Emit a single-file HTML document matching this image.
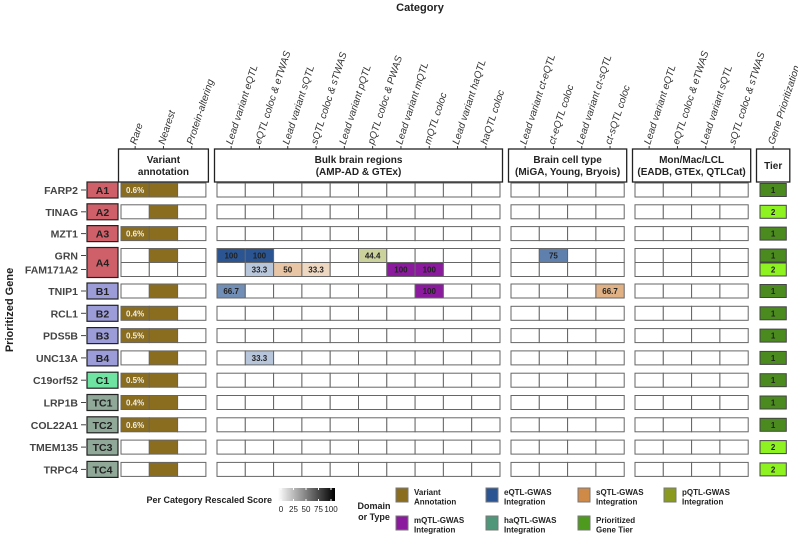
<!DOCTYPE html>
<html><head><meta charset="utf-8"><style>
html,body{margin:0;padding:0;background:#fff}
svg{display:block;font-family:"Liberation Sans",sans-serif}
</style></head><body>
<svg id="chart" width="798" height="541" viewBox="0 0 798 541" xmlns="http://www.w3.org/2000/svg">
<text x="420" y="11" font-size="11" font-weight="bold" text-anchor="middle" fill="#222">Category</text>
<text transform="translate(13,310) rotate(-90)" font-size="11" font-weight="bold" text-anchor="middle" fill="#222">Prioritized Gene</text>
<g id="headers"></g><g id="collabels"></g><g id="rows"></g><g id="legend"></g>
</svg>
<script>
const genes=["FARP2","TINAG","MZT1","GRN","FAM171A2","TNIP1","RCL1","PDS5B","UNC13A","C19orf52","LRP1B","COL22A1","TMEM135","TRPC4"];
const groups=["A1","A2","A3","A4","A4","B1","B2","B3","B4","C1","TC1","TC2","TC3","TC4"];
const tiers=[1,2,1,1,2,1,1,1,1,1,1,1,2,2];
const rarePct=["0.6%","","0.6%","","","","0.4%","0.5%","","0.5%","0.4%","0.6%","",""];
const nearest=[1,1,1,1,0,1,1,1,1,1,1,1,1,1];
const colLabels=["Rare","Nearest","Protein-altering","Lead variant eQTL","eQTL coloc & eTWAS","Lead variant sQTL","sQTL coloc & sTWAS","Lead variant pQTL","pQTL coloc & PWAS","Lead variant mQTL","mQTL coloc","Lead variant haQTL","haQTL coloc","Lead variant ct-eQTL","ct-eQTL coloc","Lead variant ct-sQTL","ct-sQTL coloc","Lead variant eQTL","eQTL coloc & eTWAS","Lead variant sQTL","sQTL coloc & sTWAS","Gene Prioritization"];
const colTypes=["var","var","var","e","e","s","s","p","p","m","m","ha","ha","e","e","s","s","e","e","s","s","tier"];
// scored cells: gene index, column index, value
const cellGene=[3,3,3,4,4,4,4,4,5,5,8,3,5];
const cellCol=[3,4,8,4,5,6,9,10,3,10,4,14,16];
const cellVal=[100,100,44.4,33.3,50,33.3,100,100,66.7,100,33.3,75,66.7];
const blocks=[{name:"Variant\nannotation",x:121,n:3},{name:"Bulk brain regions\n(AMP-AD & GTEx)",x:217,n:10},{name:"Brain cell type\n(MiGA, Young, Bryois)",x:511,n:4},{name:"Mon/Mac/LCL\n(EADB, GTEx, QTLCat)",x:635,n:4},{name:"Tier",x:759,n:1}];
const CW=28.3, NS="http://www.w3.org/2000/svg";
const base={e:[42,85,146],s:[208,138,72],p:[138,154,32],m:[139,26,158],ha:[80,150,120]};
const groupCol={A:"#cf6069",B:"#9c9cd8",C:"#6fe3a2",T:"#8fa898"};
function mk(tag,attrs,parent){const el=document.createElementNS(NS,tag);for(const k in attrs)el.setAttribute(k,attrs[k]);parent.appendChild(el);return el;}
const colX=[];blocks.forEach(b=>{for(let i=0;i<b.n;i++)colX.push(b.x+i*CW);});
function rowY(i){ if(i<3) return 183+i*21.8; if(i===3) return 248.5; if(i===4) return 262.5; return 284+(i-5)*22.3;}
function rowH(i){return 14;}
const H=document.getElementById("headers"),L=document.getElementById("collabels"),R=document.getElementById("rows"),G=document.getElementById("legend");
blocks.forEach((b,bi)=>{
  const w=b.n*CW;
  const r=mk("rect",{x:b.x-2.5,y:149,width:w+5,height:33,fill:"#fff",stroke:"#222","stroke-width":1.3},H);
  
  
  const lines=b.name.split("\n");
  lines.forEach((ln,li)=>{
    const t=mk("text",{x:b.x+w/2,y:(lines.length===1?169:163)+li*12,"font-size":10,"font-weight":"bold","text-anchor":"middle",fill:"#222"},H);
    t.textContent=ln;
    
    
  });
});
colLabels.forEach((lab,ci)=>{
  const cx=colX[ci]+CW/2;
  mk("line",{x1:cx,y1:146,x2:cx,y2:149,stroke:"#333"},L);
  const t=mk("text",{transform:`translate(${cx+1},145) rotate(-72)`,"font-size":10,"font-style":"italic",fill:"#333"},L);
  t.textContent=lab;
  
  
});
function mix(c,v){const f=v/100;return `rgb(${c.map(x=>Math.round(255+(x-255)*f)).join(",")})`;}
genes.forEach((g,gi)=>{
  const y=rowY(gi),h=rowH(gi);
  const t=mk("text",{x:78,y:y+h/2+4,"font-size":10.5,"font-weight":"bold","text-anchor":"end",fill:"#444"},R);
  t.textContent=g;
  
  
  mk("line",{x1:81,y1:y+h/2,x2:86,y2:y+h/2,stroke:"#444"},R);
  colX.forEach((x,ci)=>{
    let fill="#fff",txt="",tc="#222";
    const type=colTypes[ci];
    if(ci===0&&rarePct[gi]){fill="#8a6d1f";txt=rarePct[gi];tc="#eee";}
    if(ci===1&&nearest[gi]) fill="#8a6d1f";
    if(type==="tier"){fill=tiers[gi]===1?"#4a8a1e":"#8df21f";txt=String(tiers[gi]);}
    cellGene.forEach((cg,k)=>{if(cg===gi&&cellCol[k]===ci){fill=mix(base[type],cellVal[k]);txt=String(cellVal[k]);}});
    const isT=type==="tier";
    const c=mk("rect",{x:isT?x+1:x,y:isT?y+0.5:y,width:isT?CW-2:CW,height:isT?h-1:h,fill,stroke:isT?"#444":"#666","stroke-width":1},R);
    
    
    if(txt){const tt=mk("text",{x:ci===0?x+5:x+CW/2,y:y+h/2+3,"font-size":8,"font-weight":"bold","text-anchor":ci===0?"start":"middle",fill:tc},R);tt.textContent=txt;
      
      }
  });
});
const seen={};
groups.forEach((gr,gi)=>{
  if(seen[gr])return;seen[gr]=1;
  let last=gi;while(groups[last+1]===gr)last++;
  const y0=rowY(gi)-1,y1=rowY(last)+rowH(last)+1;
  const b=mk("rect",{x:87,y:y0,width:31,height:y1-y0,fill:groupCol[gr[0]],stroke:"#222","stroke-width":1.2},R);
  
  
  const t=mk("text",{x:102.5,y:(y0+y1)/2+4,"font-size":10.5,"font-weight":"bold","text-anchor":"middle",fill:"#222"},R);
  t.textContent=gr;
  
  
});
const lg=mk("text",{x:272,y:503,"font-size":9,"font-weight":"bold","text-anchor":"end",fill:"#222"},G);lg.textContent="Per Category Rescaled Score";


const defs=mk("defs",{},G);const lgd=mk("linearGradient",{id:"gr"},defs);
mk("stop",{offset:"0","stop-color":"#fff"},lgd);mk("stop",{offset:"1","stop-color":"#000"},lgd);
const gb=mk("rect",{x:278,y:488,width:57,height:13,fill:"url(#gr)"},G);


const ticks=["0","25","50","75","100"];
ticks.forEach((tk,i)=>{const x=281+i*12.5;mk("line",{x1:x,y1:488,x2:x,y2:490,stroke:"#fff"},G);mk("line",{x1:x,y1:499,x2:x,y2:501,stroke:"#fff"},G);
  const t=mk("text",{x,y:512,"font-size":8,"text-anchor":"middle",fill:"#222"},G);t.textContent=tk;
  
  });
[["Domain",509],["or Type",520]].forEach(([s,y])=>{const t=mk("text",{x:374,y,"font-size":9,"font-weight":"bold","text-anchor":"middle",fill:"#222"},G);t.textContent=s;
  
  });
const legNames=[["Variant","Annotation"],["eQTL-GWAS","Integration"],["sQTL-GWAS","Integration"],["pQTL-GWAS","Integration"],["mQTL-GWAS","Integration"],["haQTL-GWAS","Integration"],["Prioritized","Gene Tier"]];
const legCols=["#8a6d1f","#2a5592","#d08a48","#8a9a20","#8b1a9e","#509678","#4e9a1e"];
const legX=[396,486,578,664,396,486,578],legY=[488,488,488,488,516,516,516];
legNames.forEach((n,i)=>{
  const k=mk("rect",{x:legX[i],y:legY[i],width:12,height:14,fill:legCols[i],stroke:"#777"},G);
  
  
  n.forEach((s,j)=>{const t=mk("text",{x:legX[i]+18,y:legY[i]+7+j*9.5,"font-size":8,"font-weight":"bold",fill:"#222"},G);t.textContent=s;
    
    });
});
</script>
</body></html>
